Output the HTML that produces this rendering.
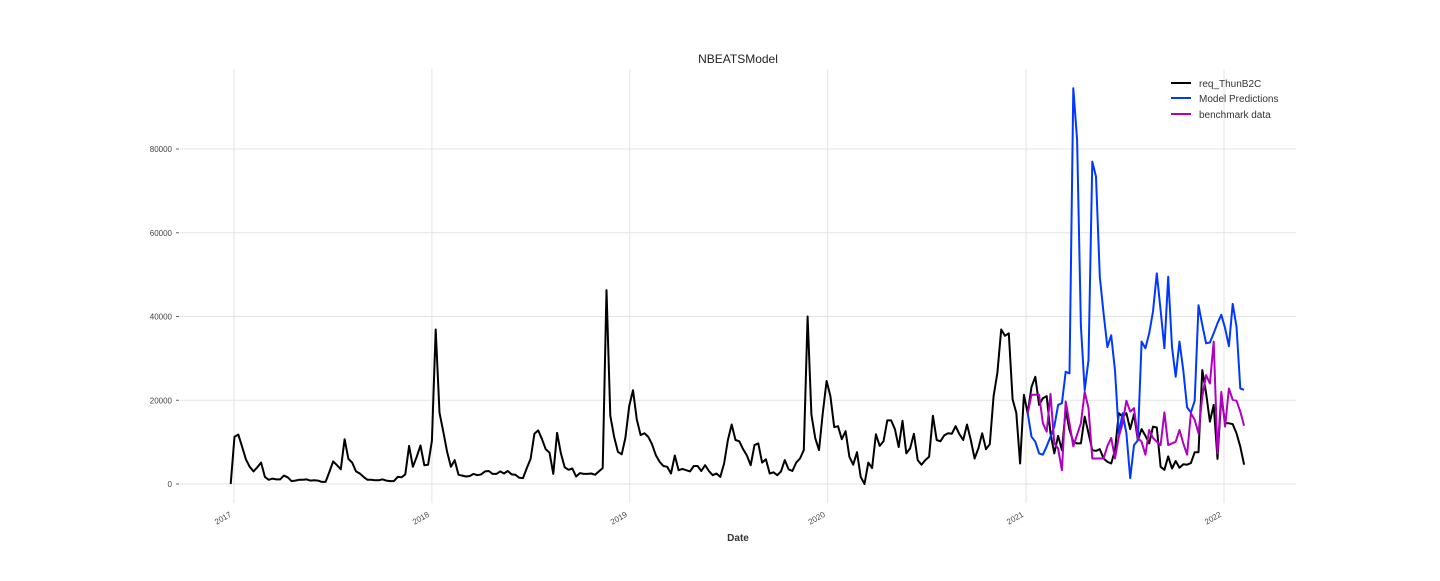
<!DOCTYPE html>
<html><head><meta charset="utf-8"><style>
body{margin:0;background:#fff;}
svg text{font-family:"Liberation Sans","DejaVu Sans",sans-serif;}
</style></head><body>
<svg id="chart" width="1440" height="576" xmlns="http://www.w3.org/2000/svg">
<rect width="1440" height="576" fill="#fff"/>
<g id="grid"></g><g id="axes"></g><g id="series"></g>
<text x="738" y="63" text-anchor="middle" font-size="12" fill="#222">NBEATSModel</text>
<text x="738" y="541" text-anchor="middle" font-size="10" font-weight="bold" fill="#333">Date</text>
<g>
<line x1="1171" y1="83" x2="1191" y2="83" stroke="#000" stroke-width="2"/>
<text x="1199" y="87" font-size="10" fill="#333">req_ThunB2C</text>
<line x1="1171" y1="98" x2="1191" y2="98" stroke="#0038ff" stroke-width="2"/>
<text x="1199" y="102" font-size="10" fill="#333">Model Predictions</text>
<line x1="1171" y1="114" x2="1191" y2="114" stroke="#b000c0" stroke-width="2"/>
<text x="1199" y="118" font-size="10" fill="#333">benchmark data</text>
</g>
</svg>
<script>
const actual=[0,11.3,11.8,8.9,5.9,4.1,3.0,4.0,5.1,1.7,1.0,1.3,1.1,1.1,2.0,1.6,0.7,0.8,1.0,1.0,1.1,0.8,0.9,0.8,0.5,0.5,2.9,5.4,4.5,3.5,10.7,6.0,5.1,3.0,2.5,1.7,1.0,1.0,0.9,0.9,1.1,0.8,0.7,0.7,1.7,1.6,2.3,9.1,4.1,6.5,9.2,4.5,4.6,10.3,36.9,17.0,12.5,7.7,4.1,5.7,2.2,2.0,1.8,1.9,2.4,2.1,2.3,3.0,3.1,2.4,2.4,3.0,2.5,3.1,2.3,2.2,1.5,1.4,3.8,6.0,12.0,12.8,10.7,8.3,7.5,2.4,12.2,7.3,4.0,3.4,3.7,1.8,2.6,2.4,2.4,2.5,2.2,3.0,3.8,46.3,16.3,11.3,7.7,7.1,11.0,18.6,22.4,15.4,
11.7,12.1,11.3,9.5,6.9,5.3,4.3,4.1,2.5,6.8,3.3,3.6,3.3,3.0,4.3,4.3,3.1,4.5,3.1,2.1,2.5,1.7,4.9,10.5,14.2,10.5,10.2,8.3,6.8,4.5,9.3,9.7,5.1,5.9,2.5,2.8,2.1,3.0,5.7,3.5,3.1,5.1,6.1,8.1,40.0,16.6,11.0,8.1,17.0,24.6,21.0,13.6,13.8,10.7,12.6,6.5,4.6,7.6,1.7,0.0,5.1,3.8,11.9,9.1,10.2,15.2,15.2,13.1,8.8,15.1,7.3,8.5,12.0,5.7,4.6,5.7,6.5,16.3,10.5,10.2,11.6,12.1,12.0,13.8,11.9,10.5,14.2,10.5,6.1,8.5,12.1,8.3,9.5,21.0,26.6,36.9,35.4,36.0,20.2,17.0,4.9,21.3,
16.9,23.2,25.6,18.9,20.5,21.0,12.1,7.3,11.5,8.1,17.7,12.9,10.1,9.7,9.7,16.1,12.1,8.1,7.9,8.3,6.1,5.3,4.9,8.1,16.9,16.1,16.9,13.1,16.7,10.5,13.1,11.5,9.7,13.7,13.5,4.1,3.4,6.6,3.7,5.5,3.9,4.7,4.6,5.0,7.6,7.6,27.2,21.7,14.9,18.9,6.0,20.9,14.5,14.5,14.3,12.1,8.9,4.6];
const predictions=[16.9,11.3,10.1,7.3,7.0,9.0,11.3,13.7,18.9,19.3,26.8,26.4,94.5,82.2,37.7,22.4,29.6,77.0,73.4,49.5,40.7,32.7,35.5,27.1,12.0,16.9,12.1,1.4,9.3,10.4,34.0,32.4,36.0,41.2,50.3,41.5,32.4,49.5,32.7,25.6,34.0,27.1,18.3,17.1,19.9,42.7,38.0,33.6,33.8,36.0,38.4,40.4,37.2,32.9,43.0,37.6,22.8,22.5];
const benchmark=[16.9,21.3,21.3,21.3,14.5,12.5,21.5,9.7,8.5,3.3,19.7,14.5,9.0,11.8,14.5,22.0,18.1,6.1,6.1,6.1,6.1,9.1,11.0,6.1,11.3,14.5,19.9,17.3,18.1,11.0,10.1,7.0,12.9,11.0,10.1,9.3,17.1,9.3,9.7,10.1,12.9,9.7,7.0,16.9,15.3,12.1,20.9,26.0,24.0,34.0,7.3,22.0,13.7,22.8,20.1,19.9,17.3,13.9];
const yTicks=[0,20000,40000,60000,80000];
const xTickYears=[2017,2018,2019,2020,2021,2022];
const startDate=Date.UTC(2016,11,26);
const NS="http://www.w3.org/2000/svg";
const WEEK=7*86400000;
const x0=Date.UTC(2017,0,1), x1=Date.UTC(2022,0,1);
function xs(t){return 234+(t-x0)/(x1-x0)*(1224-234);}
function ys(v){return 484-v/20000*83.75;}
function mk(tag,attrs,parent){const e=document.createElementNS(NS,tag);for(const k in attrs)e.setAttribute(k,attrs[k]);parent.appendChild(e);return e;}
const grid=document.getElementById('grid'),axes=document.getElementById('axes'),ser=document.getElementById('series');
yTicks.forEach(v=>{
 const l=mk('line',{x1:180,x2:1296,y1:ys(v),y2:ys(v),stroke:'#e3e3e3','stroke-width':1},grid);
 
 
 const tk=mk('line',{x1:176,x2:179,y1:ys(v),y2:ys(v),stroke:'#666','stroke-width':1},axes);
 
 
 const t=mk('text',{x:172,y:ys(v)+3,'text-anchor':'end','font-size':8,fill:'#444'},axes);
 t.textContent=String(v);
 
 
});
xTickYears.forEach(yr=>{
 const X=xs(Date.UTC(yr,0,1))-2;
 const l=mk('line',{x1:X+2,x2:X+2,y1:69,y2:503,stroke:'#e3e3e3','stroke-width':1},grid);
 
 
 const t=mk('text',{x:X,y:516,'text-anchor':'end','font-size':8,fill:'#444',transform:`rotate(-30 ${X} 516)`},axes);
 t.textContent=String(yr);
 
 
});
function path(vals,offset,color,name){
 const d=vals.map((v,i)=>(i?'L':'M')+xs(startDate+(i+offset)*WEEK).toFixed(1)+','+ys(v*1000).toFixed(1)).join('');
 const p=mk('path',{d:d,fill:'none',stroke:color,'stroke-width':2,'stroke-linejoin':'round'},ser);
 
 
}
path(actual,0,'#000','actual-line');
path(predictions,actual.length-predictions.length,'#0038ff','predictions-line');
path(benchmark,actual.length-benchmark.length,'#b000c0','benchmark-line');
</script>
</body></html>
